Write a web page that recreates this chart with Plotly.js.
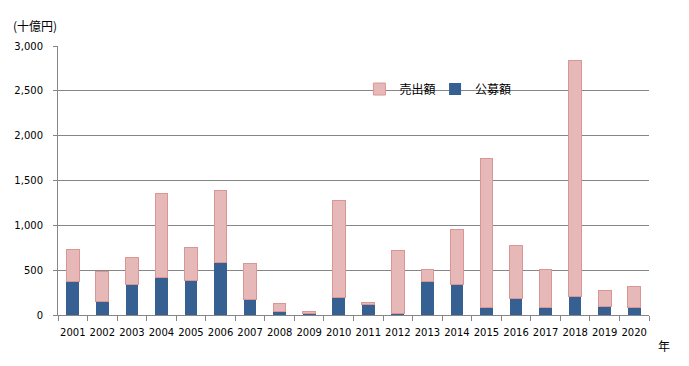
<!DOCTYPE html>
<html>
<head>
<meta charset="utf-8">
<script src="https://cdn.plot.ly/plotly-3.0.1.min.js"></script>
<style>html,body{margin:0;padding:0;background:#fff;}#chart{width:689px;height:366px;}</style>
</head>
<body>
<div id="chart"></div>
<script>
const years = ["2001","2002","2003","2004","2005","2006","2007","2008","2009","2010","2011","2012","2013","2014","2015","2016","2017","2018","2019","2020"];
// 公募額 (public offering), 十億円
const publicOffering = [372,148,335,417,383,584,171,37,22,193,115,22,372,335,82,182,82,204,93,82];
// 売出額 (secondary offering), 十億円
const secondaryOffering = [361,340,309,942,373,808,406,94,19,1088,27,700,138,622,1668,596,428,2639,183,238];
const yTicks = [0,500,1000,1500,2000,2500,3000];
const yTickLabels = ["0","500","1,000","1,500","2,000","2,500","3,000"];

const numFont = {family: "DejaVu Sans, Verdana, sans-serif", size: 10, color: "#000"};
const cjkFont = {family: "Noto Sans CJK JP, sans-serif", size: 12, color: "#000"};

const traces = [
  {type: "bar", name: "公募額", x: years, y: publicOffering, legend: "legend2",
   marker: {color: "#376092", line: {color: "#376092", width: 0}}},
  {type: "bar", name: "売出額", x: years, y: secondaryOffering, legend: "legend",
   marker: {color: "#E6B9B8", line: {color: "#D99694", width: 1}}}
];

const legendBase = {orientation: "h", xanchor: "left", y: 0.84, yanchor: "middle",
                    font: cjkFont, bgcolor: "rgba(0,0,0,0)", itemwidth: 30};

const layout = {
  width: 689, height: 366,
  margin: {l: 58, r: 40, t: 46, b: 51, pad: 0},
  paper_bgcolor: "#fff", plot_bgcolor: "#fff",
  barmode: "stack", bargap: 0.57,
  showlegend: true,
  legend: Object.assign({}, legendBase, {x: 0.51}),
  legend2: Object.assign({}, legendBase, {x: 0.638}),
  xaxis: {type: "category", tickfont: numFont, tickangle: 0, showgrid: false, showline: true, linecolor: "#868686", linewidth: 1,
          ticks: "outside", ticklen: 5, tickcolor: "#868686", tickson: "boundaries", ticklabelstandoff: 8, fixedrange: true},
  yaxis: {range: [0, 3000], tickvals: yTicks, ticktext: yTickLabels, tickfont: numFont,
          showgrid: true, gridcolor: "#868686", gridwidth: 1, showline: true, linecolor: "#868686", linewidth: 1,
          ticks: "outside", ticklen: 4, tickcolor: "#868686", ticklabelstandoff: 8, zeroline: false, fixedrange: true},
  annotations: [
    {text: "(十億円)", xref: "paper", yref: "paper", x: -0.079, y: 1.078, xanchor: "left", yanchor: "middle",
     showarrow: false, font: cjkFont},
    {text: "年", xref: "paper", yref: "paper", x: 1.011, y: -0.115, xanchor: "left", yanchor: "middle",
     showarrow: false, font: cjkFont}
  ]
};

Plotly.newPlot("chart", traces, layout, {displayModeBar: false, staticPlot: true});
</script>
</body>
</html>
